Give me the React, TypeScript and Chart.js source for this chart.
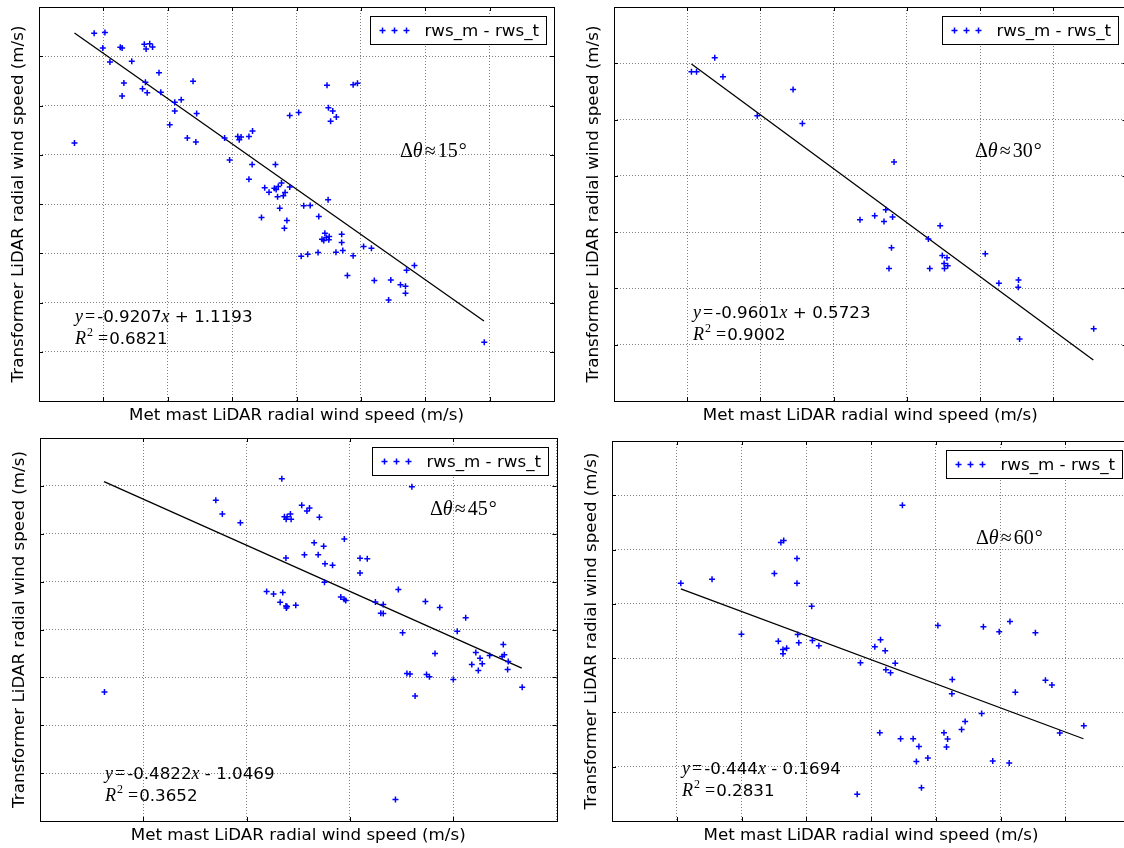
import React, { useEffect, useRef } from "react";
import { Chart, registerables } from "chart.js";

Chart.register(...registerables);

// ---------------- data (grid units of each panel; tick labels are hidden) ----------------
// Panel Δθ≈15°
const x15 = [0.857,1.024,0.991,1.102,1.263,1.291,1.441,1.319,1.291,1.608,
  1.653,1.681,1.636,1.664,1.720,1.764,1.864,1.892,0.551,2.031,
  2.109,2.109,2.209,2.304,2.393,2.437,2.449,2.883,2.961,3.088,
  3.111,3.139,3.261,3.317,3.261,3.311,3.456,3.506,3.573,3.656,
  3.673,3.684,3.717,3.706,3.740,3.767,3.795,3.823,3.812,3.851,
  3.895,3.895,4.034,4.073,4.112,4.174,4.213,4.335,4.346,4.396,
  4.424,4.441,4.463,4.508,4.502,4.474,4.496,4.563,4.619,4.530,
  4.491,4.613,4.702,4.702,4.719,4.791,4.880,4.880,4.947,5.042,
  5.164,5.209,5.431,5.465,5.615,5.693,5.693,5.710,5.832,6.917];
const y15 = [7.466,7.480,7.168,6.883,7.182,7.168,6.897,6.457,6.192,6.341,
  6.470,6.260,7.243,7.148,7.256,7.188,6.667,6.267,5.237,5.610,
  6.064,5.888,6.118,5.339,6.491,5.257,5.840,5.339,4.892,5.373,
  5.305,5.359,5.373,5.481,4.505,4.804,3.726,4.329,4.241,4.322,
  4.804,4.295,4.356,4.146,3.916,4.424,4.167,4.234,3.509,3.665,
  4.343,5.799,5.860,2.940,3.963,2.981,3.970,3.015,3.747,3.286,
  3.259,3.408,3.320,3.340,3.272,6.409,5.955,5.888,5.766,5.678,
  4.085,3.022,3.388,3.218,3.056,2.547,2.947,6.423,6.450,3.137,
  3.103,2.446,2.053,2.459,2.358,2.331,2.188,2.656,2.751,1.192];
const fit15X = [0.551, 6.912];
const fit15Y = [7.473, 1.626];

// Panel Δθ≈30°
const x30 = [1.058,1.127,1.376,1.488,2.446,1.957,2.573,3.825,3.360,3.561,
  3.712,3.688,3.805,3.790,3.756,4.294,4.313,4.455,4.484,4.548,
  4.509,4.514,4.558,5.071,5.257,5.525,5.521,5.540,6.552];
const y30 = [5.850,5.850,6.098,5.761,5.536,5.068,4.932,4.245,3.221,3.292,
  3.398,3.191,3.268,2.723,2.356,2.877,2.356,3.114,2.587,2.546,
  2.445,2.356,2.404,2.617,2.090,2.149,2.019,1.101,1.285];
const fit30X = [1.058, 6.547];
const fit30Y = [5.986, 0.728];

// Panel Δθ≈45°
const x45 = [1.248,3.404,3.530,3.880,4.682,4.732,4.784,4.848,4.862,4.766,
  5.068,5.218,5.168,5.410,5.308,5.492,5.892,4.762,5.120,5.386,
  5.518,5.664,6.196,6.336,6.196,5.508,4.388,4.522,4.700,4.650,
  4.762,4.770,4.782,4.952,5.824,5.888,5.920,6.494,6.646,6.598,
  6.646,6.938,7.020,7.200,7.104,7.164,7.262,6.882,7.462,7.740,
  7.648,7.484,7.540,8.002,8.078,8.242,8.438,8.520,8.360,8.562,
  8.486,8.706,8.970,8.948,8.990,9.066,9.054,9.336];
const y45 = [2.697,6.699,6.412,6.228,7.148,6.356,6.356,6.412,6.301,6.301,
  6.596,6.538,6.475,6.343,5.812,5.739,5.890,5.492,5.559,5.559,
  5.371,5.342,5.486,5.476,5.179,4.986,4.796,4.740,4.775,4.568,
  4.493,4.451,4.478,4.505,4.677,4.633,4.604,4.572,4.524,4.342,
  4.336,4.838,3.931,6.983,3.082,3.073,2.613,0.447,4.587,4.462,
  3.500,3.061,3.011,2.956,3.966,4.244,3.521,3.402,3.270,3.282,
  3.144,3.458,3.688,3.437,3.471,3.333,3.165,2.795];
const fit45X = [1.240, 9.328];
const fit45Y = [7.088, 3.193];

// Panel Δθ≈60°
const x60 = [1.063,1.545,1.999,2.508,2.569,2.608,2.652,2.641,2.641,2.697,
  2.857,2.857,2.868,2.885,3.084,3.095,3.195,3.837,4.059,4.147,
  4.219,4.374,4.230,4.302,4.485,4.136,4.457,4.651,4.740,4.701,
  4.878,4.779,3.787,5.033,5.255,5.249,5.127,5.183,5.166,5.399,
  5.454,5.709,5.736,5.980,6.146,6.229,5.880,6.135,6.539,6.694,
  6.794,6.916,7.287];
const y60 = [4.380,4.454,3.442,4.558,3.313,5.129,5.166,3.160,3.080,3.184,
  4.834,4.380,3.436,3.282,3.957,3.325,3.227,2.914,3.209,3.337,
  3.135,2.908,2.785,2.730,5.816,1.626,1.515,1.515,1.374,1.098,
  1.160,0.613,0.491,3.601,2.607,2.344,1.626,1.509,1.362,1.687,
  1.834,1.982,3.577,3.485,3.675,2.374,1.104,1.067,3.466,2.595,
  2.503,1.620,1.755];
const fit60X = [1.063, 7.281];
const fit60Y = [4.276, 1.515];

const angles = ["15", "30", "45", "60"];
const slopes = ["-0.9207", "-0.9601", "-0.4822", "-0.444"];
const intercepts = [" + 1.1193", " + 0.5723", " - 1.0469", " - 0.1694"];
const r2s = ["0.6821", "0.9002", "0.3652", "0.2831"];
const legendLabel = "rws_m - rws_t";
const xTitle = "Met mast LiDAR radial wind speed (m/s)";
const yTitle = "Transformer LiDAR radial wind speed (m/s)";

// ---------------- layout ----------------
type Pad = { left: number; top: number; right: number; bottom: number };
type PanelCfg = {
  key: string;
  left: number; top: number; width: number; height: number;
  pad: Pad;
  xMax: number; xStep: number; yMax: number; yStep: number;
  xs: number[]; ys: number[]; fx: number[]; fy: number[];
  idx: number;
  anglePos: [number, number]; // relative to chart area left/top
  eqPos: [number, number];
};

const panels: PanelCfg[] = [
  { key: "p15", left: 0, top: 0, width: 562, height: 424,
    pad: { left: 39, top: 7, right: 8, bottom: 23 },
    xMax: 8, xStep: 1, yMax: 8, yStep: 1,
    xs: x15, ys: y15, fx: fit15X, fy: fit15Y, idx: 0,
    anglePos: [361, 143], eqPos: [36, 309] },
  { key: "p30", left: 562, top: 0, width: 570, height: 424,
    pad: { left: 52, top: 7, right: 5, bottom: 23 },
    xMax: 7, xStep: 1, yMax: 7, yStep: 1,
    xs: x30, ys: y30, fx: fit30X, fy: fit30Y, idx: 1,
    anglePos: [361, 143], eqPos: [79, 305] },
  { key: "p45", left: 0, top: 424, width: 562, height: 424,
    pad: { left: 40, top: 14, right: 4, bottom: 27 },
    xMax: 10, xStep: 2, yMax: 8, yStep: 1,
    xs: x45, ys: y45, fx: fit45X, fy: fit45Y, idx: 2,
    anglePos: [390, 70], eqPos: [65, 335] },
  { key: "p60", left: 562, top: 424, width: 580, height: 424,
    pad: { left: 50, top: 17, right: 12, bottom: 27 },
    xMax: 8, xStep: 1, yMax: 7, yStep: 1,
    xs: x60, ys: y60, fx: fit60X, fy: fit60Y, idx: 3,
    anglePos: [364, 96], eqPos: [70, 327] },
];

const SANS = '"DejaVu Sans", sans-serif';
const SERIF = '"Liberation Serif", "DejaVu Serif", serif';
const BLUE = "#0000ff";

type Seg = { t: string; f: string; dy?: number; gl?: number; gr?: number };

function drawSegs(ctx: CanvasRenderingContext2D, segs: Seg[], x: number, y: number) {
  let cx = x;
  for (const s of segs) {
    ctx.font = s.f;
    cx += s.gl || 0;
    ctx.fillText(s.t, cx, y + (s.dy || 0));
    cx += ctx.measureText(s.t).width + (s.gr || 0);
  }
}

function drawCross(ctx: CanvasRenderingContext2D, x: number, y: number, r: number) {
  ctx.beginPath();
  ctx.moveTo(x - r, y);
  ctx.lineTo(x + r, y);
  ctx.moveTo(x, y - r);
  ctx.lineTo(x, y + r);
  ctx.stroke();
}

function makeDecor(cfg: PanelCfg) {
  return {
    id: "decor_" + cfg.key,
    afterDraw(chart: any) {
      const ctx: CanvasRenderingContext2D = chart.ctx;
      const a = chart.chartArea;
      const sx = chart.scales.x;
      const sy = chart.scales.y;
      ctx.save();
      // inward tick marks on all four sides
      ctx.strokeStyle = "#000";
      ctx.lineWidth = 1;
      ctx.beginPath();
      for (const t of sx.ticks) {
        const px = Math.round(sx.getPixelForValue(t.value)) + 0.5;
        ctx.moveTo(px, a.top); ctx.lineTo(px, a.top + 4);
        ctx.moveTo(px, a.bottom); ctx.lineTo(px, a.bottom - 4);
      }
      for (const t of sy.ticks) {
        const py = Math.round(sy.getPixelForValue(t.value)) + 0.5;
        ctx.moveTo(a.left, py); ctx.lineTo(a.left + 4, py);
        ctx.moveTo(a.right, py); ctx.lineTo(a.right - 4, py);
      }
      ctx.stroke();
      // frame
      const L = Math.round(a.left) + 0.5, T = Math.round(a.top) + 0.5;
      const R = Math.round(a.right) + 0.5, B = Math.round(a.bottom) + 0.5;
      ctx.strokeRect(L, T, R - L, B - T);

      // legend
      const bw = 176, bh = 28;
      const bx = Math.round(a.right - 8.5 - bw) + 0.5;
      const by = Math.round(a.top + 9) + 0.5;
      ctx.fillStyle = "#fff";
      ctx.fillRect(bx, by, bw, bh);
      ctx.strokeStyle = "#000";
      ctx.strokeRect(bx, by, bw, bh);
      ctx.strokeStyle = BLUE;
      ctx.lineWidth = 1.5;
      const my = by + bh / 2;
      [12, 24, 36].forEach((o) => drawCross(ctx, bx + o, my, 3));
      ctx.fillStyle = "#000";
      ctx.textBaseline = "alphabetic";
      ctx.textAlign = "left";
      ctx.font = `16.7px ${SANS}`;
      ctx.fillText(legendLabel, bx + 54, my + 5);

      // Δθ annotation
      const ax = a.left + cfg.anglePos[0];
      const ay = a.top + cfg.anglePos[1] + 7;
      drawSegs(ctx, [
        { t: "Δ", f: `20px ${SERIF}` },
        { t: "θ", f: `italic 20px ${SERIF}`, gr: 2 },
        { t: "≈", f: `20px ${SERIF}`, gr: 2 },
        { t: angles[cfg.idx], f: `20px ${SERIF}`, gr: 1 },
        { t: "°", f: `20px ${SERIF}` },
      ], ax, ay);

      // regression equation
      const ex = a.left + cfg.eqPos[0];
      const ey = a.top + cfg.eqPos[1] + 6;
      drawSegs(ctx, [
        { t: "y", f: `italic 18px ${SERIF}` },
        { t: "=", f: `18px ${SERIF}`, gl: 2, gr: 2 },
        { t: slopes[cfg.idx], f: `16.7px ${SANS}` },
        { t: "x", f: `italic 18px ${SERIF}` },
        { t: intercepts[cfg.idx], f: `16.7px ${SANS}` },
      ], ex, ey);
      drawSegs(ctx, [
        { t: "R", f: `italic 18px ${SERIF}`, gr: 1 },
        { t: "2", f: `12px ${SERIF}`, dy: -8, gr: 5 },
        { t: "=", f: `18px ${SERIF}`, gr: 1 },
        { t: r2s[cfg.idx], f: `16.7px ${SANS}` },
      ], ex, ey + 22);

      // axis titles
      ctx.font = `16.7px ${SANS}`;
      ctx.textAlign = "center";
      ctx.textBaseline = "middle";
      ctx.fillText(xTitle, (a.left + a.right) / 2, a.bottom + 15);
      ctx.save();
      ctx.translate(a.left - 20, (a.top + a.bottom) / 2);
      ctx.rotate(-Math.PI / 2);
      ctx.fillText(yTitle, 0, 0);
      ctx.restore();
      ctx.restore();
    },
  };
}

function Panel({ cfg }: { cfg: PanelCfg }) {
  const ref = useRef<HTMLCanvasElement | null>(null);
  useEffect(() => {
    if (!ref.current) return;
    const gridOpts = { color: "#808080", lineWidth: 1, drawTicks: false };
    const chart = new Chart(ref.current, {
      type: "scatter",
      data: {
        datasets: [
          {
            type: "scatter",
            label: legendLabel,
            data: cfg.xs.map((x, i) => ({ x, y: cfg.ys[i] })),
            pointStyle: "cross",
            pointRadius: 3,
            borderColor: BLUE,
            backgroundColor: BLUE,
            borderWidth: 1.5,
          } as any,
          {
            type: "line",
            label: "fit",
            data: cfg.fx.map((x, i) => ({ x, y: cfg.fy[i] })),
            borderColor: "#000",
            borderWidth: 1.3,
            pointRadius: 0,
            showLine: true,
            fill: false,
          } as any,
        ],
      },
      options: {
        animation: false,
        responsive: false,
        events: [],
        layout: { padding: cfg.pad },
        plugins: { legend: { display: false }, tooltip: { enabled: false } },
        scales: {
          x: {
            type: "linear",
            min: 0,
            max: cfg.xMax,
            ticks: { stepSize: cfg.xStep, display: false },
            grid: gridOpts,
            border: { display: false, dash: [1, 2] },
          },
          y: {
            type: "linear",
            min: 0,
            max: cfg.yMax,
            ticks: { stepSize: cfg.yStep, display: false },
            grid: gridOpts,
            border: { display: false, dash: [1, 2] },
          },
        },
      } as any,
      plugins: [makeDecor(cfg)],
    });
    return () => chart.destroy();
  }, [cfg]);
  return (
    <canvas
      ref={ref}
      width={cfg.width}
      height={cfg.height}
      style={{ position: "absolute", left: cfg.left, top: cfg.top, width: cfg.width, height: cfg.height }}
    />
  );
}

export default function App() {
  return (
    <div
      style={{
        position: "absolute",
        left: 0,
        top: 0,
        width: 1124,
        height: 848,
        overflow: "hidden",
        background: "#fff",
      }}
    >
      {panels.map((p) => (
        <Panel key={p.key} cfg={p} />
      ))}
    </div>
  );
}
